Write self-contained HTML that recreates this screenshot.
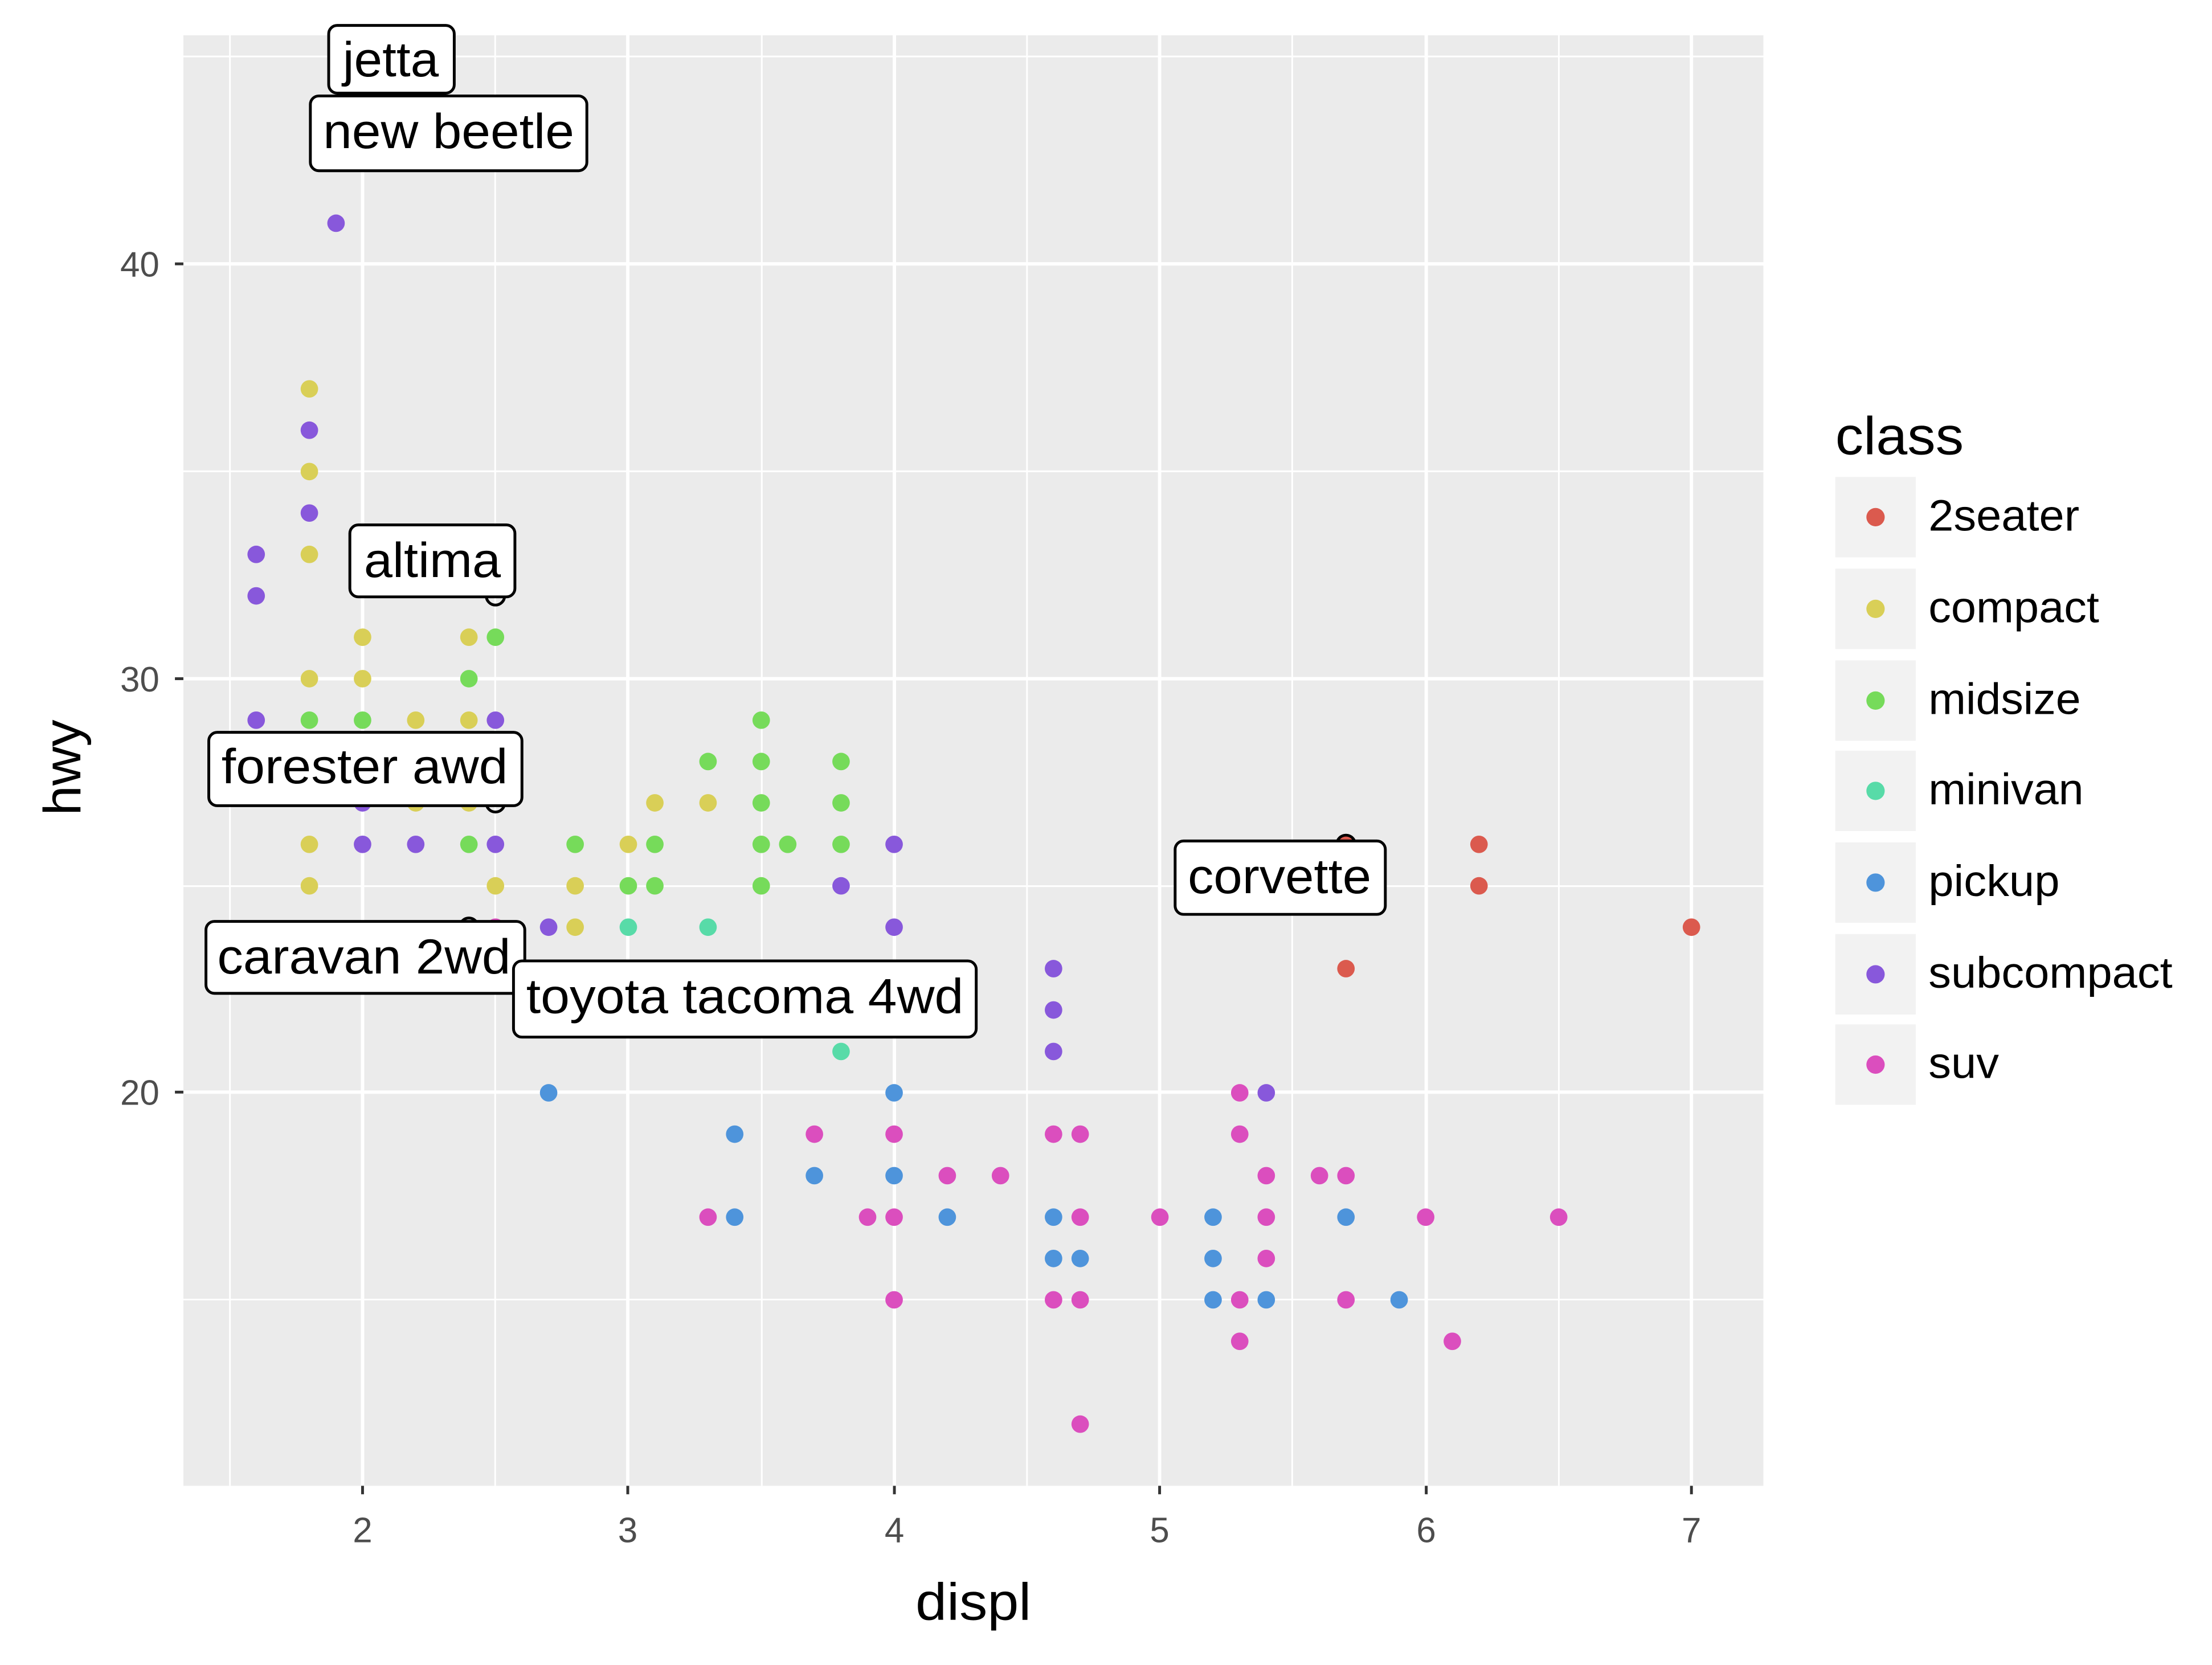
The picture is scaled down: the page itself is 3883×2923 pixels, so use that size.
<!DOCTYPE html>
<html><head><meta charset="utf-8"><style>html,body{margin:0;padding:0;background:#fff}svg{display:block}</style></head><body>
<svg width="3883" height="2923" viewBox="0 0 1568 1180" preserveAspectRatio="none" xmlns="http://www.w3.org/2000/svg" font-family="Liberation Sans, sans-serif">
<rect width="1568" height="1180" fill="#fff"/>
<rect x="130" y="25" width="1120" height="1028" fill="#ebebeb"/>
<g stroke="#fff" stroke-width="1.2">
<line x1="163" y1="25" x2="163" y2="1053"/><line x1="351" y1="25" x2="351" y2="1053"/><line x1="540" y1="25" x2="540" y2="1053"/><line x1="728" y1="25" x2="728" y2="1053"/><line x1="916" y1="25" x2="916" y2="1053"/><line x1="1105" y1="25" x2="1105" y2="1053"/>
<line x1="130" y1="40" x2="1250" y2="40"/><line x1="130" y1="334" x2="1250" y2="334"/><line x1="130" y1="628" x2="1250" y2="628"/><line x1="130" y1="921" x2="1250" y2="921"/>
</g>
<g stroke="#fff" stroke-width="2.4">
<line x1="257" y1="25" x2="257" y2="1053"/><line x1="445" y1="25" x2="445" y2="1053"/><line x1="634" y1="25" x2="634" y2="1053"/><line x1="822" y1="25" x2="822" y2="1053"/><line x1="1011" y1="25" x2="1011" y2="1053"/><line x1="1199" y1="25" x2="1199" y2="1053"/>
<line x1="130" y1="187" x2="1250" y2="187"/><line x1="130" y1="481" x2="1250" y2="481"/><line x1="130" y1="774" x2="1250" y2="774"/>
</g>
<g>
<circle cx="238.2" cy="158.2" r="6.2" fill="#8858DB"/>
<circle cx="219.3" cy="275.6" r="6.2" fill="#D9CF57"/>
<circle cx="219.3" cy="304.9" r="6.2" fill="#8858DB"/>
<circle cx="219.3" cy="334.2" r="6.2" fill="#D9CF57"/>
<circle cx="219.3" cy="363.6" r="6.2" fill="#8858DB"/>
<circle cx="181.6" cy="392.9" r="6.2" fill="#8858DB"/>
<circle cx="219.3" cy="392.9" r="6.2" fill="#D9CF57"/>
<circle cx="181.6" cy="422.3" r="6.2" fill="#8858DB"/>
<circle cx="257" cy="451.6" r="6.2" fill="#D9CF57"/>
<circle cx="332.4" cy="451.6" r="6.2" fill="#D9CF57"/>
<circle cx="351.2" cy="451.6" r="6.2" fill="#76DB5A"/>
<circle cx="219.3" cy="481" r="6.2" fill="#D9CF57"/>
<circle cx="257" cy="481" r="6.2" fill="#D9CF57"/>
<circle cx="332.4" cy="481" r="6.2" fill="#76DB5A"/>
<circle cx="181.6" cy="510.4" r="6.2" fill="#8858DB"/>
<circle cx="219.3" cy="510.4" r="6.2" fill="#76DB5A"/>
<circle cx="257" cy="510.4" r="6.2" fill="#76DB5A"/>
<circle cx="294.7" cy="510.4" r="6.2" fill="#D9CF57"/>
<circle cx="332.4" cy="510.4" r="6.2" fill="#D9CF57"/>
<circle cx="351.2" cy="510.4" r="6.2" fill="#8858DB"/>
<circle cx="539.6" cy="510.4" r="6.2" fill="#76DB5A"/>
<circle cx="501.9" cy="539.7" r="6.2" fill="#76DB5A"/>
<circle cx="539.6" cy="539.7" r="6.2" fill="#76DB5A"/>
<circle cx="596.2" cy="539.7" r="6.2" fill="#76DB5A"/>
<circle cx="257" cy="569" r="6.2" fill="#8858DB"/>
<circle cx="294.7" cy="569" r="6.2" fill="#D9CF57"/>
<circle cx="332.4" cy="569" r="6.2" fill="#D9CF57"/>
<circle cx="464.2" cy="569" r="6.2" fill="#D9CF57"/>
<circle cx="501.9" cy="569" r="6.2" fill="#D9CF57"/>
<circle cx="539.6" cy="569" r="6.2" fill="#76DB5A"/>
<circle cx="596.2" cy="569" r="6.2" fill="#76DB5A"/>
<circle cx="219.3" cy="598.4" r="6.2" fill="#D9CF57"/>
<circle cx="257" cy="598.4" r="6.2" fill="#8858DB"/>
<circle cx="294.7" cy="598.4" r="6.2" fill="#8858DB"/>
<circle cx="332.4" cy="598.4" r="6.2" fill="#76DB5A"/>
<circle cx="351.2" cy="598.4" r="6.2" fill="#8858DB"/>
<circle cx="407.7" cy="598.4" r="6.2" fill="#76DB5A"/>
<circle cx="445.4" cy="598.4" r="6.2" fill="#D9CF57"/>
<circle cx="464.2" cy="598.4" r="6.2" fill="#76DB5A"/>
<circle cx="539.6" cy="598.4" r="6.2" fill="#76DB5A"/>
<circle cx="558.4" cy="598.4" r="6.2" fill="#76DB5A"/>
<circle cx="596.2" cy="598.4" r="6.2" fill="#76DB5A"/>
<circle cx="633.8" cy="598.4" r="6.2" fill="#8858DB"/>
<circle cx="954.1" cy="598.4" r="6.2" fill="#DB5A4E"/>
<circle cx="1048.4" cy="598.4" r="6.2" fill="#DB5A4E"/>
<circle cx="219.3" cy="627.8" r="6.2" fill="#D9CF57"/>
<circle cx="351.2" cy="627.8" r="6.2" fill="#D9CF57"/>
<circle cx="407.7" cy="627.8" r="6.2" fill="#D9CF57"/>
<circle cx="445.4" cy="627.8" r="6.2" fill="#76DB5A"/>
<circle cx="464.2" cy="627.8" r="6.2" fill="#76DB5A"/>
<circle cx="539.6" cy="627.8" r="6.2" fill="#76DB5A"/>
<circle cx="596.2" cy="627.8" r="6.2" fill="#8858DB"/>
<circle cx="1048.4" cy="627.8" r="6.2" fill="#DB5A4E"/>
<circle cx="351.2" cy="657.1" r="6.2" fill="#DB4EBE"/>
<circle cx="388.9" cy="657.1" r="6.2" fill="#8858DB"/>
<circle cx="407.7" cy="657.1" r="6.2" fill="#D9CF57"/>
<circle cx="445.4" cy="657.1" r="6.2" fill="#58DBA8"/>
<circle cx="501.9" cy="657.1" r="6.2" fill="#58DBA8"/>
<circle cx="633.8" cy="657.1" r="6.2" fill="#8858DB"/>
<circle cx="1199" cy="657.1" r="6.2" fill="#DB5A4E"/>
<circle cx="954.1" cy="686.5" r="6.2" fill="#DB5A4E"/>
<circle cx="746.8" cy="686.5" r="6.2" fill="#8858DB"/>
<circle cx="746.8" cy="715.8" r="6.2" fill="#8858DB"/>
<circle cx="596.2" cy="745.2" r="6.2" fill="#58DBA8"/>
<circle cx="746.8" cy="745.2" r="6.2" fill="#8858DB"/>
<circle cx="388.9" cy="774.5" r="6.2" fill="#4E94DB"/>
<circle cx="633.8" cy="774.5" r="6.2" fill="#4E94DB"/>
<circle cx="878.8" cy="774.5" r="6.2" fill="#DB4EBE"/>
<circle cx="897.6" cy="774.5" r="6.2" fill="#8858DB"/>
<circle cx="520.8" cy="803.8" r="6.2" fill="#4E94DB"/>
<circle cx="577.3" cy="803.8" r="6.2" fill="#DB4EBE"/>
<circle cx="633.8" cy="803.8" r="6.2" fill="#DB4EBE"/>
<circle cx="746.8" cy="803.8" r="6.2" fill="#DB4EBE"/>
<circle cx="765.7" cy="803.8" r="6.2" fill="#DB4EBE"/>
<circle cx="878.8" cy="803.8" r="6.2" fill="#DB4EBE"/>
<circle cx="577.3" cy="833.2" r="6.2" fill="#4E94DB"/>
<circle cx="633.8" cy="833.2" r="6.2" fill="#4E94DB"/>
<circle cx="671.5" cy="833.2" r="6.2" fill="#DB4EBE"/>
<circle cx="709.2" cy="833.2" r="6.2" fill="#DB4EBE"/>
<circle cx="897.6" cy="833.2" r="6.2" fill="#DB4EBE"/>
<circle cx="935.3" cy="833.2" r="6.2" fill="#DB4EBE"/>
<circle cx="954.1" cy="833.2" r="6.2" fill="#DB4EBE"/>
<circle cx="501.9" cy="862.6" r="6.2" fill="#DB4EBE"/>
<circle cx="520.8" cy="862.6" r="6.2" fill="#4E94DB"/>
<circle cx="615" cy="862.6" r="6.2" fill="#DB4EBE"/>
<circle cx="633.8" cy="862.6" r="6.2" fill="#DB4EBE"/>
<circle cx="671.5" cy="862.6" r="6.2" fill="#4E94DB"/>
<circle cx="746.8" cy="862.6" r="6.2" fill="#4E94DB"/>
<circle cx="765.7" cy="862.6" r="6.2" fill="#DB4EBE"/>
<circle cx="822.2" cy="862.6" r="6.2" fill="#DB4EBE"/>
<circle cx="859.9" cy="862.6" r="6.2" fill="#4E94DB"/>
<circle cx="897.6" cy="862.6" r="6.2" fill="#DB4EBE"/>
<circle cx="954.1" cy="862.6" r="6.2" fill="#4E94DB"/>
<circle cx="1010.6" cy="862.6" r="6.2" fill="#DB4EBE"/>
<circle cx="1104.9" cy="862.6" r="6.2" fill="#DB4EBE"/>
<circle cx="746.8" cy="891.9" r="6.2" fill="#4E94DB"/>
<circle cx="765.7" cy="891.9" r="6.2" fill="#4E94DB"/>
<circle cx="859.9" cy="891.9" r="6.2" fill="#4E94DB"/>
<circle cx="897.6" cy="891.9" r="6.2" fill="#DB4EBE"/>
<circle cx="633.8" cy="921.2" r="6.2" fill="#DB4EBE"/>
<circle cx="746.8" cy="921.2" r="6.2" fill="#DB4EBE"/>
<circle cx="765.7" cy="921.2" r="6.2" fill="#DB4EBE"/>
<circle cx="859.9" cy="921.2" r="6.2" fill="#4E94DB"/>
<circle cx="878.8" cy="921.2" r="6.2" fill="#DB4EBE"/>
<circle cx="897.6" cy="921.2" r="6.2" fill="#4E94DB"/>
<circle cx="954.1" cy="921.2" r="6.2" fill="#DB4EBE"/>
<circle cx="991.8" cy="921.2" r="6.2" fill="#4E94DB"/>
<circle cx="878.8" cy="950.6" r="6.2" fill="#DB4EBE"/>
<circle cx="1029.5" cy="950.6" r="6.2" fill="#DB4EBE"/>
<circle cx="765.7" cy="1009.3" r="6.2" fill="#DB4EBE"/>
</g>
<g fill="none" stroke="#000" stroke-width="2">
<circle cx="351.2" cy="422.3" r="6.5"/><circle cx="351.2" cy="569" r="6.5"/><circle cx="332.4" cy="657.1" r="6.5"/><circle cx="954.1" cy="598.4" r="6.5"/>
</g>
<g stroke="#333" stroke-width="2">
<line x1="124" y1="187" x2="130" y2="187"/><line x1="124" y1="481" x2="130" y2="481"/><line x1="124" y1="774" x2="130" y2="774"/>
<line x1="257" y1="1053" x2="257" y2="1059"/><line x1="445" y1="1053" x2="445" y2="1059"/><line x1="634" y1="1053" x2="634" y2="1059"/><line x1="822" y1="1053" x2="822" y2="1059"/><line x1="1011" y1="1053" x2="1011" y2="1059"/><line x1="1199" y1="1053" x2="1199" y2="1059"/>
</g>
<g fill="#4d4d4d" font-size="25">
<text x="113" y="196" text-anchor="end">40</text><text x="113" y="490" text-anchor="end">30</text><text x="113" y="783" text-anchor="end">20</text>
<g text-anchor="middle"><text x="257" y="1093">2</text><text x="445" y="1093">3</text><text x="634" y="1093">4</text><text x="822" y="1093">5</text><text x="1011" y="1093">6</text><text x="1199" y="1093">7</text></g>
</g>
<text x="649" y="1148" font-size="37" textLength="82" lengthAdjust="spacingAndGlyphs">displ</text>
<text transform="translate(57,578) rotate(-90)" font-size="37" textLength="68" lengthAdjust="spacingAndGlyphs">hwy</text>
<text x="1301" y="322" font-size="38" textLength="91" lengthAdjust="spacingAndGlyphs">class</text>
<g font-size="31">
<rect x="1301" y="338" width="57" height="57" fill="#f2f2f2"/><circle cx="1329.5" cy="366.5" r="6.5" fill="#DB5A4E"/><text x="1367" y="376" textLength="107" lengthAdjust="spacingAndGlyphs">2seater</text>
<rect x="1301" y="403" width="57" height="57" fill="#f2f2f2"/><circle cx="1329.5" cy="431.5" r="6.5" fill="#D9CF57"/><text x="1367" y="441" textLength="121" lengthAdjust="spacingAndGlyphs">compact</text>
<rect x="1301" y="468" width="57" height="57" fill="#f2f2f2"/><circle cx="1329.5" cy="496.5" r="6.5" fill="#76DB5A"/><text x="1367" y="506" textLength="108" lengthAdjust="spacingAndGlyphs">midsize</text>
<rect x="1301" y="532" width="57" height="57" fill="#f2f2f2"/><circle cx="1329.5" cy="560.5" r="6.5" fill="#58DBA8"/><text x="1367" y="570" textLength="110" lengthAdjust="spacingAndGlyphs">minivan</text>
<rect x="1301" y="597" width="57" height="57" fill="#f2f2f2"/><circle cx="1329.5" cy="625.5" r="6.5" fill="#4E94DB"/><text x="1367" y="635" textLength="93" lengthAdjust="spacingAndGlyphs">pickup</text>
<rect x="1301" y="662" width="57" height="57" fill="#f2f2f2"/><circle cx="1329.5" cy="690.5" r="6.5" fill="#8858DB"/><text x="1367" y="700" textLength="173" lengthAdjust="spacingAndGlyphs">subcompact</text>
<rect x="1301" y="726" width="57" height="57" fill="#f2f2f2"/><circle cx="1329.5" cy="754.5" r="6.5" fill="#DB4EBE"/><text x="1367" y="764" textLength="50" lengthAdjust="spacingAndGlyphs">suv</text>
</g>
<g font-size="35" stroke-width="2">
<rect x="233" y="18" width="89" height="48" rx="6" fill="#fff" stroke="#000"/><text x="243" y="54" textLength="68" lengthAdjust="spacingAndGlyphs">jetta</text>
<rect x="220" y="68" width="196" height="53" rx="6" fill="#fff" stroke="#000"/><text x="229" y="105" textLength="178" lengthAdjust="spacingAndGlyphs">new beetle</text>
<rect x="248" y="372" width="117" height="51" rx="6" fill="#fff" stroke="#000"/><text x="258" y="409" textLength="97" lengthAdjust="spacingAndGlyphs">altima</text>
<rect x="148" y="519" width="222" height="52" rx="6" fill="#fff" stroke="#000"/><text x="157" y="555" textLength="203" lengthAdjust="spacingAndGlyphs">forester awd</text>
<rect x="146" y="653" width="226" height="51" rx="6" fill="#fff" stroke="#000"/><text x="154" y="690" textLength="208" lengthAdjust="spacingAndGlyphs">caravan 2wd</text>
<rect x="364" y="681" width="328" height="54" rx="6" fill="#fff" stroke="#000"/><text x="373" y="718" textLength="310" lengthAdjust="spacingAndGlyphs">toyota tacoma 4wd</text>
<rect x="833" y="596" width="149" height="52" rx="6" fill="#fff" stroke="#000"/><text x="842" y="633" textLength="130" lengthAdjust="spacingAndGlyphs">corvette</text>
</g>
</svg>
</body></html>
